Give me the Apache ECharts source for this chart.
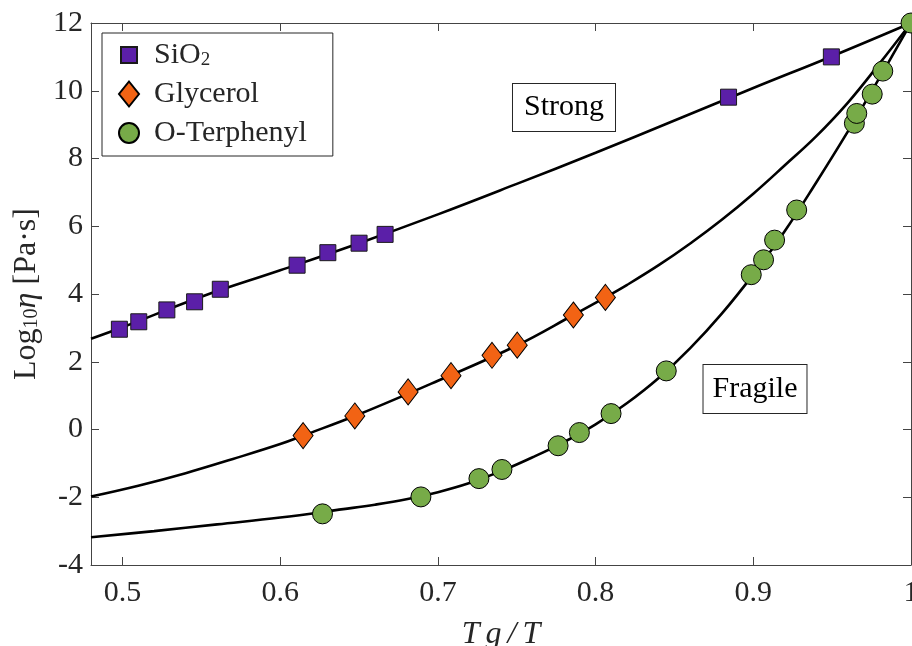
<!DOCTYPE html>
<html><head><meta charset="utf-8">
<script src="https://cdn.jsdelivr.net/npm/echarts@6/dist/echarts.min.js"></script>
<style>html,body{margin:0;padding:0;background:#fff}#c{width:912px;height:646px}</style>
</head><body><div id="c"></div>
<script>
// Measured data (Tg/T, log10 viscosity)
const sio2X = [0.498, 0.5103, 0.5281, 0.5457, 0.562, 0.6107, 0.6302, 0.650, 0.6665, 0.8843, 0.9495];
const sio2Y = [2.96, 3.18, 3.53, 3.77, 4.14, 4.85, 5.22, 5.50, 5.76, 9.81, 11.0];
const glyX = [0.6145, 0.6473, 0.6811, 0.7083, 0.7343, 0.7503, 0.7859, 0.8062];
const glyY = [-0.18, 0.40, 1.11, 1.59, 2.19, 2.49, 3.38, 3.90];
const otpX = [0.6268, 0.6892, 0.726, 0.7406, 0.7762, 0.7897, 0.8098, 0.8448, 0.8987, 0.9065, 0.9135, 0.9275, 0.9641, 0.9656, 0.9754, 0.9821, 1.0];
const otpY = [-2.49, -1.99, -1.45, -1.18, -0.48, -0.09, 0.47, 1.73, 4.57, 5.01, 5.59, 6.48, 9.04, 9.33, 9.90, 10.58, 12.0];
// Fit curves
const sio2FitX = [0.48, 0.5, 0.55, 0.6, 0.65, 0.7, 0.75, 0.8, 0.85, 0.9, 0.95, 1.0];
const sio2FitY = [2.68, 3.02, 3.92, 4.70, 5.50, 6.35, 7.25, 8.17, 9.12, 10.08, 11.02, 12.0];
const glyFitX = [0.48, 0.51, 0.54, 0.57, 0.6, 0.6145, 0.65, 0.7, 0.75, 0.7859, 0.8062, 0.82, 0.84, 0.86, 0.88, 0.90, 0.92, 0.94, 0.96, 0.98, 1.0];
const glyFitY = [-1.98, -1.66, -1.29, -0.87, -0.43, -0.18, 0.45, 1.44, 2.48, 3.38, 3.90, 4.27, 4.85, 5.49, 6.19, 6.96, 7.80, 8.66, 9.65, 10.80, 12.0];
const otpFitX = [0.48, 0.52, 0.56, 0.6, 0.64, 0.66, 0.68, 0.70, 0.72, 0.74, 0.76, 0.78, 0.80, 0.82, 0.84, 0.86, 0.88, 0.90, 0.92, 0.94, 0.96, 0.98, 1.0];
const otpFitY = [-3.18, -3.0, -2.8, -2.6, -2.35, -2.22, -2.06, -1.85, -1.58, -1.23, -0.82, -0.37, 0.15, 0.78, 1.52, 2.40, 3.42, 4.58, 5.86, 7.30, 8.80, 10.38, 12.0];
const xTicks = [0.5, 0.6, 0.7, 0.8, 0.9, 1.0];
const seriesNames = ['SiO2', 'Glycerol', 'O-Terphenyl'];

const zip = (a, b) => a.map((v, i) => [v, b[i]]);
const FONT = 'Liberation Serif';
const TXT = '#262626';
const AX = '#444';

const chart = echarts.init(document.getElementById('c'), null, {renderer: 'canvas'});
const fitLine = (x, y) => ({
  type: 'line', data: zip(x, y), smooth: 0.4, showSymbol: false,
  lineStyle: {color: '#000', width: 2.6}, z: 2, silent: true
});
chart.setOption({
  animation: false,
  backgroundColor: '#fff',
  grid: {left: 91, right: 1, top: 23, bottom: 81, outerBoundsMode: 'none', containLabel: false},
  legend: {
    data: [
      {name: seriesNames[0], icon: 'path://M0,0M30,26M2,5h16v16h-16z'},
      {name: seriesNames[1], icon: 'path://M0,0M30,26M10,0.5L20,13L10,25.5L0,13z'},
      {name: seriesNames[2], icon: 'path://M0,0M30,26M20,13A10,10 0 1 1 0,13A10,10 0 1 1 20,13z'}
    ],
    orient: 'vertical', left: 102, top: 33,
    itemWidth: 30, itemHeight: 26, itemGap: 9,
    padding: [7, 26, 8, 16],
    borderColor: '#262626', borderWidth: 1, backgroundColor: '#fff',
    formatter: n => n === 'SiO2' ? '{n|SiO}{s|2}' : '{n|' + n + '}',
    textStyle: {
      fontFamily: FONT, color: TXT, fontSize: 30,
      rich: {
        n: {fontFamily: FONT, fontSize: 30, color: TXT, lineHeight: 30},
        s: {fontFamily: FONT, fontSize: 19, color: TXT, lineHeight: 14, verticalAlign: 'bottom'}
      }
    }
  },
  xAxis: [{
    type: 'value', min: 0.48, max: 1.0, position: 'bottom',
    axisLine: {show: true, onZero: false, lineStyle: {color: AX, width: 1}},
    axisTick: {show: true, inside: true, length: 8, customValues: xTicks, lineStyle: {color: AX}},
    axisLabel: {customValues: xTicks, fontFamily: FONT, fontSize: 30, color: TXT, margin: 13},
    splitLine: {show: false},
    name: '{t|T}{t|g}{t|/}{t|T}', nameLocation: 'middle', nameGap: 54,
    nameTextStyle: {
      fontFamily: FONT, fontStyle: 'italic', fontSize: 32, color: TXT,
      rich: {t: {fontFamily: FONT, fontStyle: 'italic', fontSize: 32, color: TXT, padding: [0, 3, 0, 3]}}
    }
  }, {
    type: 'value', min: 0.48, max: 1.0, position: 'top',
    axisLine: {show: true, onZero: false, lineStyle: {color: AX, width: 1}},
    axisTick: {show: true, inside: true, length: 8, customValues: xTicks, lineStyle: {color: AX}},
    axisLabel: {show: false}, splitLine: {show: false}
  }],
  yAxis: [{
    type: 'value', min: -4, max: 12, interval: 2, position: 'left',
    axisLine: {show: true, onZero: false, lineStyle: {color: AX, width: 1}},
    axisTick: {show: true, inside: true, length: 8, lineStyle: {color: AX}},
    axisLabel: {fontFamily: FONT, fontSize: 30, color: TXT, margin: 8},
    splitLine: {show: false},
    name: '{n|Log}{s|10}{i|η} {n|[Pa·s]}', nameLocation: 'middle', nameGap: 48, nameRotate: 90,
    nameTextStyle: {
      fontFamily: FONT, fontSize: 32, color: TXT,
      rich: {
        n: {fontFamily: FONT, fontSize: 32, color: TXT, lineHeight: 32},
        i: {fontFamily: FONT, fontSize: 32, color: TXT, fontStyle: 'italic', lineHeight: 32},
        s: {fontFamily: FONT, fontSize: 20, color: TXT, lineHeight: 15, verticalAlign: 'bottom'}
      }
    }
  }, {
    type: 'value', min: -4, max: 12, interval: 2, position: 'right',
    axisLine: {show: true, onZero: false, lineStyle: {color: AX, width: 1}},
    axisTick: {show: true, inside: true, length: 8, lineStyle: {color: AX}},
    axisLabel: {show: false}, splitLine: {show: false}
  }],
  graphic: [
    {type: 'text', x: 564, y: 107.5, z: 10, style: {text: 'Strong', align: 'center', verticalAlign: 'middle',
      font: '30px "Liberation Serif"', fill: '#000', lineHeight: 35, padding: [6, 11, 6, 11],
      borderColor: '#262626', borderWidth: 1, backgroundColor: '#fff'}},
    {type: 'text', x: 755, y: 389, z: 10, style: {text: 'Fragile', align: 'center', verticalAlign: 'middle',
      font: '30px "Liberation Serif"', fill: '#000', lineHeight: 36, padding: [6, 9, 6, 9],
      borderColor: '#262626', borderWidth: 1, backgroundColor: '#fff'}}
  ],
  series: [
    fitLine(sio2FitX, sio2FitY),
    fitLine(glyFitX, glyFitY),
    fitLine(otpFitX, otpFitY),
    {name: seriesNames[0], type: 'scatter', data: zip(sio2X, sio2Y), symbol: 'rect', symbolSize: 16, z: 3,
      itemStyle: {color: '#5b1fa8', borderColor: '#1a1a1a', borderWidth: 1, opacity: 1}},
    {name: seriesNames[1], type: 'scatter', data: zip(glyX, glyY), symbol: 'diamond', symbolSize: [20, 26], z: 3,
      itemStyle: {color: '#f26314', borderColor: '#000', borderWidth: 1, opacity: 1}},
    {name: seriesNames[2], type: 'scatter', data: zip(otpX, otpY), symbol: 'circle', symbolSize: 20, z: 4,
      itemStyle: {color: '#77ab48', borderColor: '#000', borderWidth: 1, opacity: 1}}
  ]
});
</script>
</body></html>
